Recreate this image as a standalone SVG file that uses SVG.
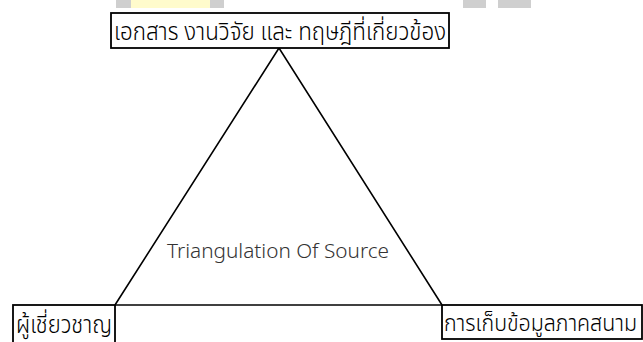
<svg xmlns="http://www.w3.org/2000/svg" width="643" height="342" viewBox="0 0 643 342">
<style>
.box{fill:#fff;stroke:#000;stroke-width:1.8}
.th{font-family:"Noto Sans","Noto Sans Thai","Liberation Sans",sans-serif;font-size:24px;font-weight:300;fill:#000}
.edge{fill:none;stroke:#000;stroke-width:1.6}
.mid{font-family:"Noto Sans","Liberation Sans",sans-serif;font-size:20px;font-weight:300;fill:#333}
</style>
<rect width="643" height="342" fill="#fff"/>
<g id="watermark">
<rect x="116" y="0" width="15" height="8" fill="#cfcfcf"/>
<rect x="131" y="0" width="79" height="8" fill="#fffbcc"/>
<rect x="210" y="0" width="14" height="8" fill="#cfcfcf"/>
<rect x="463" y="0" width="23" height="8" fill="#cfcfcf"/>
<rect x="498" y="0" width="33" height="8" fill="#cfcfcf"/>
</g>
<g id="connectors">
<polyline class="edge" points="115,305 279,48 442,305"/>
<line class="edge" x1="115" y1="305" x2="442" y2="305"/>
</g>
<g id="top">
<rect class="box" x="111" y="13" width="338" height="35"/>
<text class="th" x="114" y="40" textLength="332" lengthAdjust="spacingAndGlyphs">เอกสาร งานวิจัย และ ทฤษฎีที่เกี่ยวข้อง</text>
</g>
<g id="left">
<rect class="box" x="13" y="305" width="102" height="40"/>
<text class="th" x="16" y="333" textLength="96" lengthAdjust="spacingAndGlyphs">ผู้เชี่ยวชาญ</text>
</g>
<g id="right">
<rect class="box" x="442" y="305" width="200" height="34"/>
<text class="th" x="444" y="331" style="font-size:23px" textLength="193" lengthAdjust="spacingAndGlyphs">การเก็บข้อมูลภาคสนาม</text>
</g>
<g id="center">
<text class="mid" x="167" y="258" textLength="222" lengthAdjust="spacingAndGlyphs">Triangulation Of Source</text>
</g>
</svg>
